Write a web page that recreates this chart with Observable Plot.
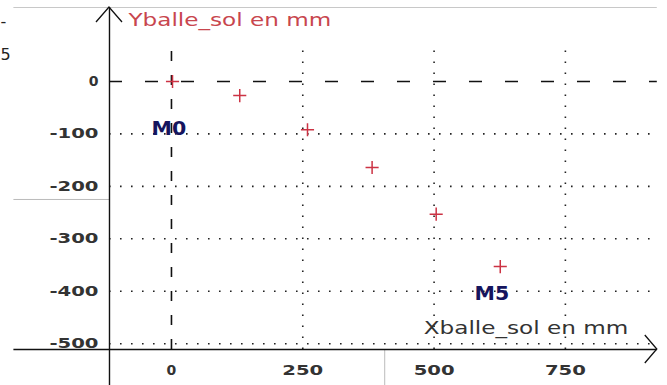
<!DOCTYPE html>
<html><head><meta charset="utf-8">
<script src="https://cdn.jsdelivr.net/npm/d3@7"></script>
<script src="https://cdn.jsdelivr.net/npm/@observablehq/plot@0.6"></script>
<style>body{margin:0;background:#fff;} svg{display:block;}</style>
</head><body><div id="chart"></div>
<script>
// data
const xBalle = [2, 130, 259, 382, 504, 626];
const yBalle = [0, -27, -92, -164, -253, -353];
const pointNames = ["M0", "M5"];
const labelX = [-5, 610];
const labelY = [-90, -405];
const xTicks = [0, 250, 500, 750];
const yTicks = [0, -100, -200, -300, -400, -500];
const xGrid = [250, 500, 750];
const yGrid = [-100, -200, -300, -400, -500];
const xTitle = "Xballe_sol en mm";
const yTitle = "Yballe_sol en mm";

const points = xBalle.map((x, i) => ({x, y: yBalle[i]}));
const labels = pointNames.map((t, i) => ({t, x: labelX[i], y: labelY[i]}));

const xDomain = [-300, 925];
const yDomain = [-511, 141];
const yAxisAt = -118;   // x value where the vertical axis is drawn
const gridTop = 65;
const fontFamily = "'DejaVu Sans', Verdana, sans-serif";

const arrows = (index, scales) => {
  const x = scales.x, y = scales.y;
  const g = d3.create("svg:g").attr("fill", "none").attr("stroke", "#111").attr("stroke-width", 1.3);
  const ax = x(yAxisAt), ay = y(yDomain[1]);
  g.append("path").attr("d", `M${ax - 13},${ay + 15}L${ax},${ay}L${ax + 13},${ay + 15}`);
  const bx = x(xDomain[1]), by = y(yDomain[0]);
  g.append("path").attr("d", `M${bx - 12},${by - 14}L${bx},${by}L${bx - 12},${by + 14}`);
  return g.node();
};

const chart = Plot.plot({
  width: 667,
  height: 385,
  margin: 0,
  style: {background: "#fff", fontFamily},
  x: {domain: xDomain, range: [13.4, 656.8], axis: null},
  y: {domain: yDomain, range: [349, 7], axis: null},
  marks: [
    Plot.ruleY([yDomain[1]], {x1: xDomain[0], x2: xDomain[1], stroke: "#c8c8c8"}),
    Plot.ruleY([-225], {x1: xDomain[0], x2: yAxisAt, stroke: "#bbb"}),
    Plot.ruleX([406], {y1: yDomain[0], y2: -580, stroke: "#bbb"}),
    Plot.ruleY(yGrid, {x1: yAxisAt, x2: xDomain[1], stroke: "#222", strokeWidth: 1.6, strokeDasharray: "1.6,9.4"}),
    Plot.ruleX(xGrid, {y1: yDomain[0], y2: gridTop, stroke: "#222", strokeWidth: 1.6, strokeDasharray: "1.6,9.4"}),
    Plot.ruleY([0], {x1: yAxisAt, x2: xDomain[1], stroke: "#111", strokeWidth: 1.6, strokeDasharray: "13,23"}),
    Plot.ruleX([0], {y1: yDomain[0], y2: gridTop, stroke: "#111", strokeWidth: 1.6, strokeDasharray: "10,14"}),
    Plot.ruleX([yAxisAt], {y1: -580, y2: yDomain[1], stroke: "#111", strokeWidth: 1.4}),
    Plot.ruleY([yDomain[0]], {x1: xDomain[0], x2: xDomain[1], stroke: "#111", strokeWidth: 1.4}),
    arrows,
    Plot.dot(points, {x: "x", y: "y", symbol: "plus", r: 4.3, stroke: "#cc3344", strokeWidth: 1.5}),
    Plot.text(labels, {x: "x", y: "y", text: "t", fill: "#15155e", fontSize: 19, fontWeight: "bold"}),
    Plot.text(xTicks, {x: d => d, y: yDomain[0], text: d => String(d), dy: 21, fill: "#333", fontSize: 14, fontWeight: "bold"}),
    Plot.text(yTicks, {y: d => d, x: yAxisAt, text: d => String(d), dx: -11, textAnchor: "end", fill: "#333", fontSize: 14, fontWeight: "bold"}),
    Plot.text([yTitle], {x: yAxisAt, y: yDomain[1], text: d => d, dx: 19, dy: 13, textAnchor: "start", fill: "#c8464e", fontSize: 17}),
    Plot.text([xTitle], {x: xDomain[1], y: yDomain[0], text: d => d, dx: -29, dy: -21, textAnchor: "end", fill: "#333", fontSize: 17}),
    Plot.text(["5"], {frameAnchor: "top-left", text: d => d, dx: 0, dy: 48, textAnchor: "start", fill: "#222", fontSize: 16}),
    Plot.text(["-"], {frameAnchor: "top-left", text: d => d, dx: 0, dy: 15, textAnchor: "start", fill: "#222", fontSize: 16})
  ]
});
document.getElementById("chart").appendChild(chart);

// widen the glyphs like the reference's stretched rendering
const stretch = {"14": 1.4, "17": 1.36, "19": 1.08};
d3.select(chart).selectAll("text").each(function () {
  const fs = this.parentNode.getAttribute("font-size");
  const f = stretch[fs];
  if (f && this.textContent.length > 1) {
    const len = this.getComputedTextLength();
    this.setAttribute("textLength", (len * f).toFixed(1));
    this.setAttribute("lengthAdjust", "spacingAndGlyphs");
  }
});
</script>
</body></html>
